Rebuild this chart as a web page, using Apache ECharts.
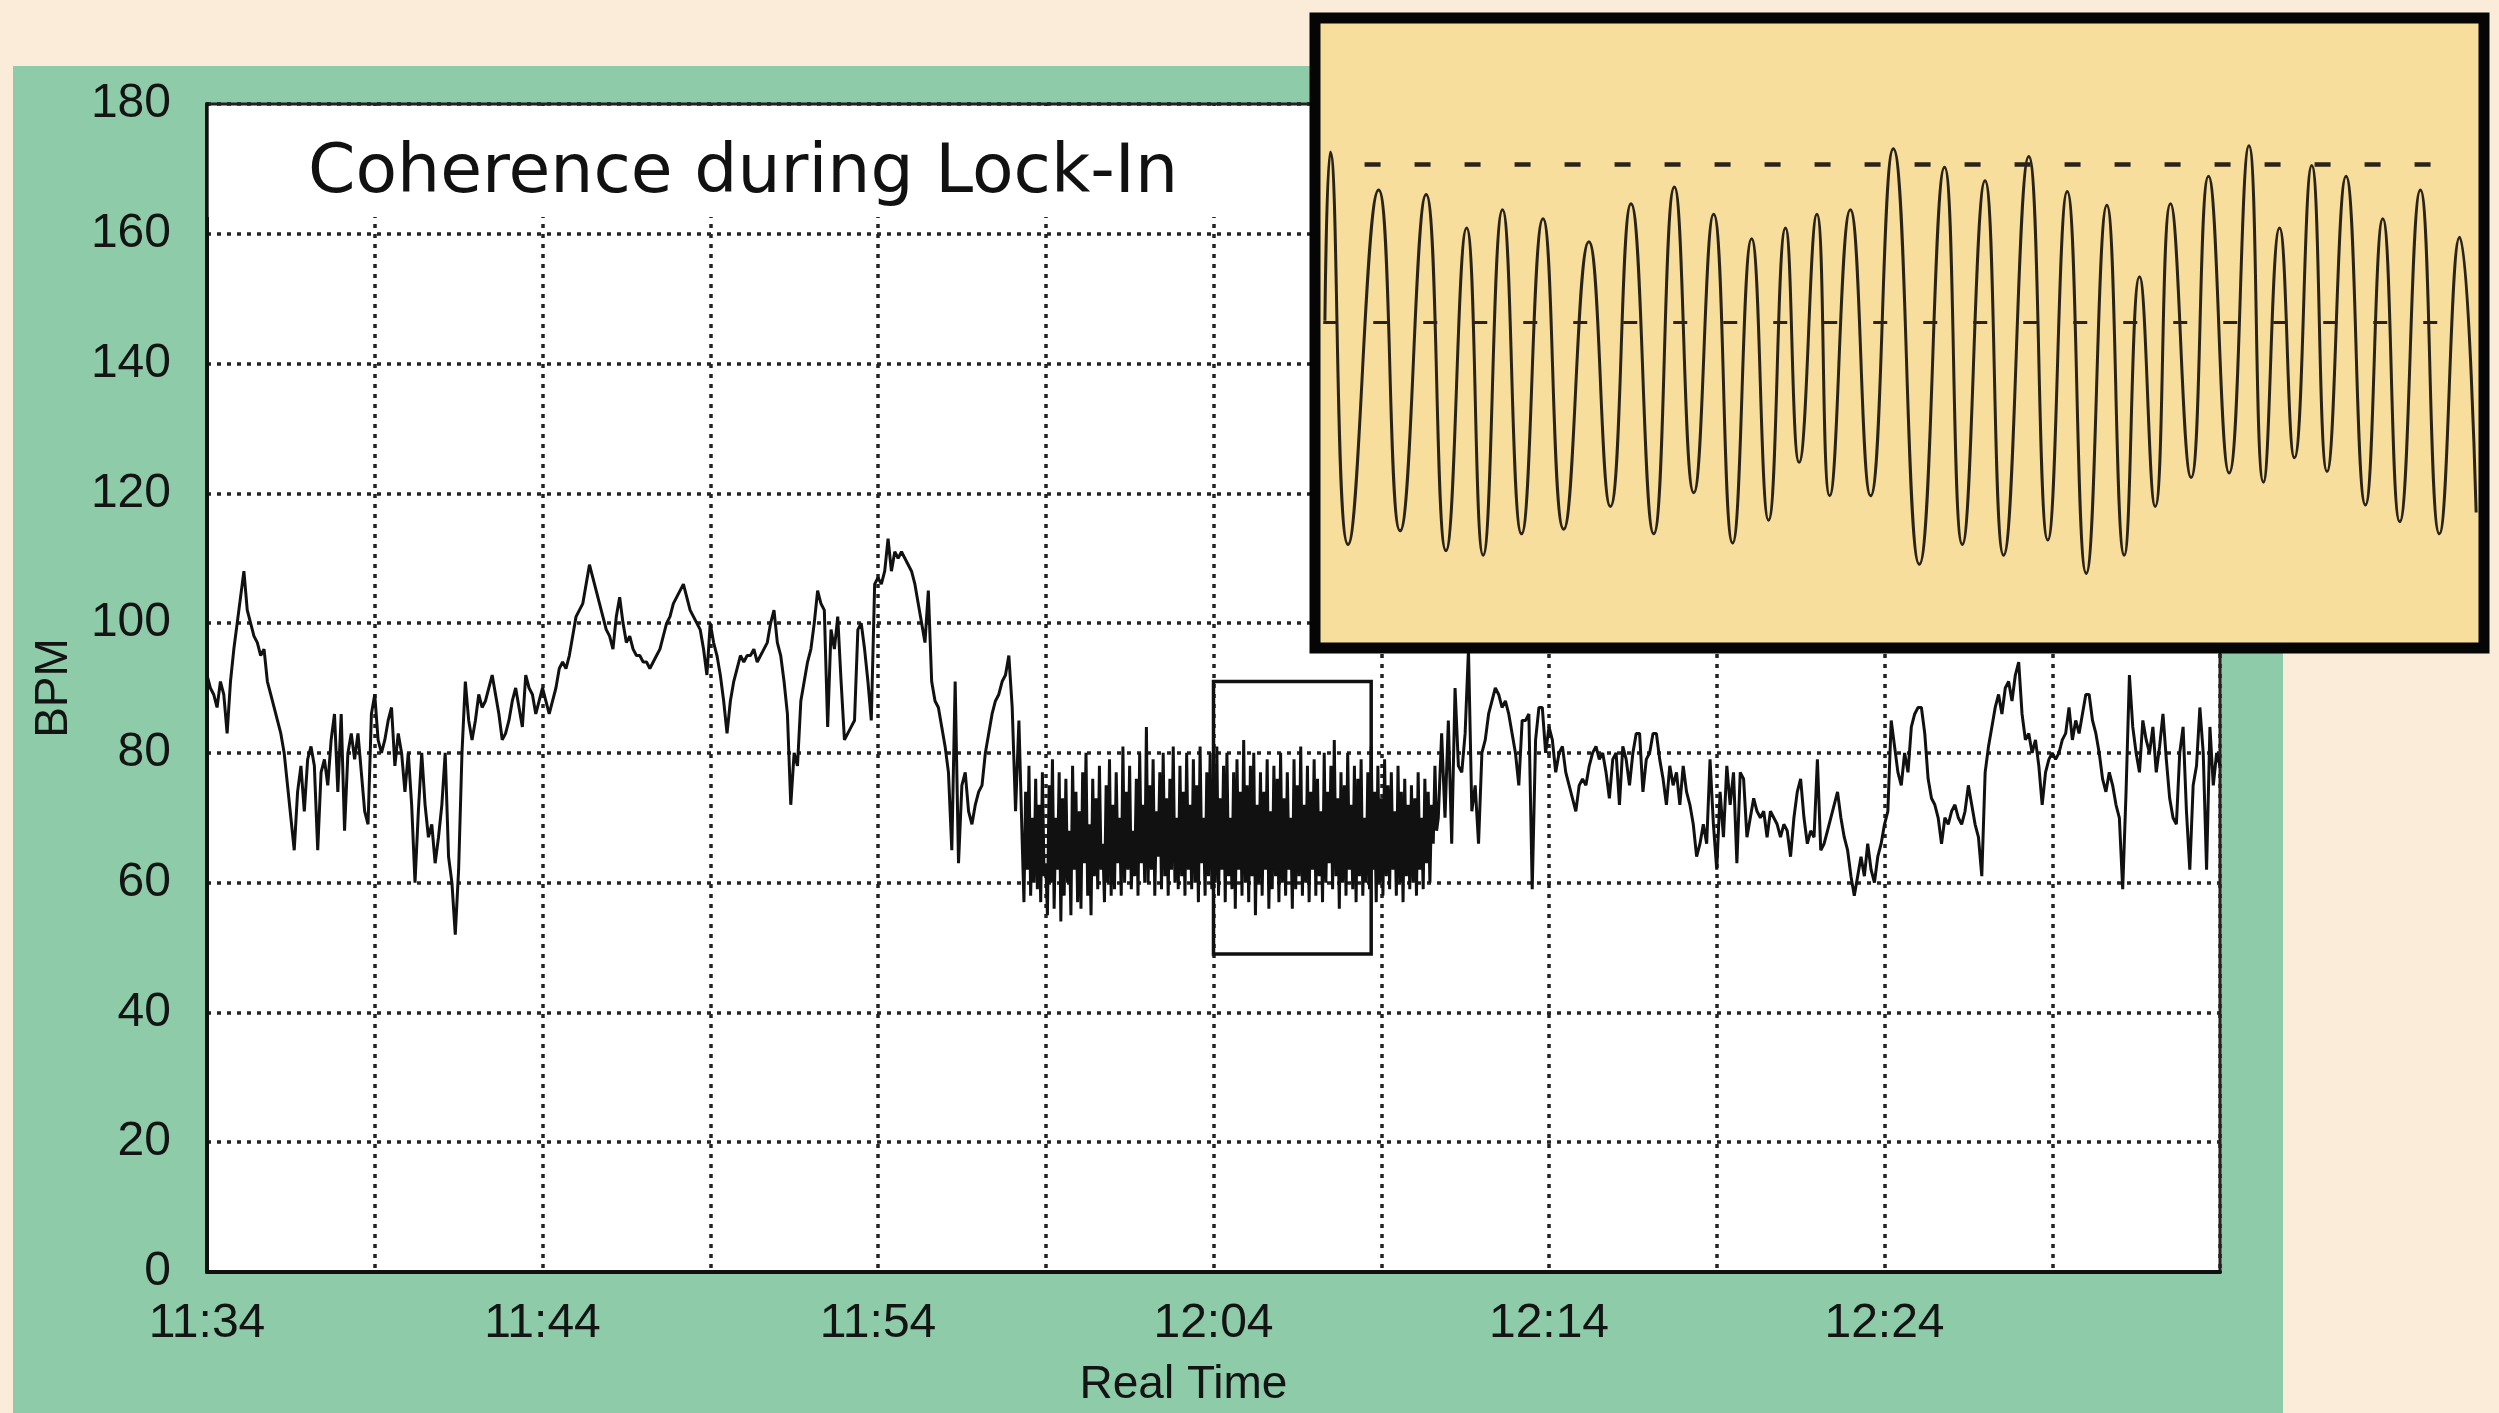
<!DOCTYPE html>
<html>
<head>
<meta charset="utf-8">
<title>Coherence during Lock-In</title>
<script src="https://cdn.jsdelivr.net/npm/echarts@6/dist/echarts.min.js"></script>
<style>
  html, body { margin: 0; padding: 0; background: #faecd8; overflow: hidden; }
  #main { width: 2499px; height: 1413px; }
</style>
</head>
<body>
<div id="main"></div>
<script>
// heart rate (BPM); x = minutes after 11:34
// 11:34 - 11:43.9, one reading every 6 s
var bpmA = [
  92, 90, 89, 87, 91, 89, 83, 91, 96, 100,
  104, 108, 102, 100, 98, 97, 95, 96, 91, 89,
  87, 85, 83, 80, 75, 70, 65, 74, 78, 71,
  79, 81, 78, 65, 77, 79, 75, 82, 86, 74,
  86, 68, 80, 83, 79, 83, 77, 71, 69, 86,
  89, 82, 80, 82, 85, 87, 78, 83, 80, 74,
  80, 72, 60, 71, 80, 72, 67, 69, 63, 67,
  72, 80, 64, 60, 52, 62, 80, 91, 85, 82,
  85, 89, 87, 88, 90, 92, 89, 86, 82, 83,
  85, 88, 90, 87, 84, 92, 90, 89, 86, 88
];
// 11:44 - 11:53.9
var bpmB = [
  90, 88, 86, 88, 90, 93, 94, 93, 95, 98,
  101, 102, 103, 106, 109, 107, 105, 103, 101, 99,
  98, 96, 101, 104, 100, 97, 98, 96, 95, 95,
  94, 94, 93, 94, 95, 96, 98, 100, 101, 103,
  104, 105, 106, 104, 102, 101, 100, 99, 96, 92,
  100, 97, 95, 92, 88, 83, 88, 91, 93, 95,
  94, 95, 95, 96, 94, 95, 96, 97, 100, 102,
  97, 95, 91, 86, 72, 80, 78, 88, 91, 94,
  96, 100, 105, 103, 102, 84, 99, 96, 101, 91,
  82, 83, 84, 85, 99, 100, 96, 91, 85, 106
];
// 11:54 - 11:58.2
var bpmC = [
  107, 106, 108, 113, 108, 111, 110, 111, 110, 109,
  108, 106, 103, 100, 97, 105, 91, 88, 87, 84,
  81, 77, 65, 91, 63, 75, 77, 71, 69, 72,
  74, 75, 80, 83, 86, 88, 89, 91, 92, 95,
  87, 71, 85
];
// lock-in, 11:58.3 - 12:10.65, one reading every 3 s
var bpmLock = [
  66, 57, 74, 62, 78, 58, 70, 60, 76, 59, 72, 57, 77, 61,
  63, 55, 75, 60, 79, 56, 70, 62, 77, 54, 73, 58, 76, 60, 68, 55, 78, 62, 74, 57,
  71, 56, 77, 63, 80, 58, 69, 55, 76, 61, 73, 59, 78, 62, 66, 57, 75, 60, 79, 58,
  72, 59, 77, 63, 70, 58, 81, 60, 74, 62, 78, 59, 68, 61, 76, 58, 80, 63, 72, 60,
  84, 60, 75, 62, 79, 58, 71, 64, 77, 59, 80, 61, 73, 58, 76, 62, 81, 60, 70, 59,
  78, 61, 74, 58, 80, 62, 72, 59, 79, 60, 75, 57, 81, 63, 70, 58, 77, 61, 80, 59,
  76, 60, 81, 58, 73, 62, 78, 57, 80, 61, 70, 59, 77, 56, 79, 62, 74, 58, 82, 60,
  75, 57, 78, 61, 80, 55, 72, 60, 77, 58, 74, 62, 79, 56, 71, 59, 78, 61, 76, 57,
  80, 60, 73, 58, 77, 62, 70, 56, 79, 59, 75, 61, 81, 58, 72, 60, 78, 57, 74, 62,
  79, 58, 76, 61, 71, 57, 80, 60, 74, 63, 78, 59, 82, 61, 73, 56, 77, 60, 75, 58,
  80, 62, 72, 59, 78, 57, 76, 61, 79, 58, 70, 60, 77, 59, 81, 62, 74, 57, 78, 60,
  73, 58, 79, 61, 75, 59, 77, 62, 71, 58, 78, 60, 74, 57, 76, 61, 72, 59, 75, 60,
  73, 58, 77, 62, 70, 59, 76, 63, 74, 60, 72, 66, 78, 68
];
// 12:10.7 - 12:34, one reading every 6 s
var bpmD = [
  70, 83, 70, 85, 66, 90, 78, 77, 83, 96,
  71, 75, 66, 80, 82, 86, 88, 90, 89, 87,
  88, 86, 83, 80, 75, 85, 85, 86, 59, 82,
  87, 87, 80, 84, 82, 77, 80, 81, 77, 75,
  73, 71, 75, 76, 75, 78, 80, 81, 79, 80,
  77, 73, 79, 80, 72, 81, 79, 75, 80, 83,
  83, 74, 79, 80, 83, 83, 79, 76, 72, 78,
  75, 77, 72, 78, 74, 72, 69, 64, 66, 69,
  66, 79, 69, 62, 74, 67, 78, 72, 77, 63,
  77, 76, 67, 70, 73, 71, 70, 71, 67, 71,
  70, 69, 67, 69, 68, 64, 70, 74, 76, 70,
  66, 68, 67, 79, 65, 66, 68, 70, 72, 74,
  70, 67, 65, 61, 58, 61, 64, 61, 66, 62,
  60, 64, 66, 69, 71, 85, 81, 77, 75, 80,
  77, 84, 86, 87, 87, 83, 76, 73, 72, 70,
  66, 70, 69, 71, 72, 70, 69, 71, 75, 72,
  69, 67, 61, 77, 81, 84, 87, 89, 86, 90,
  91, 88, 92, 94, 86, 82, 83, 80, 82, 78,
  72, 77, 79, 80, 79, 80, 82, 83, 87, 82,
  85, 83, 86, 89, 89, 85, 83, 80, 76, 74,
  77, 75, 72, 70, 59, 74, 92, 84, 80, 77,
  85, 82, 80, 84, 77, 81, 86, 79, 73, 70,
  69, 80, 84, 71, 62, 75, 78, 87, 80, 62,
  84, 75, 80, 78
];
var segments = [
  { start: 0, step: 0.1, values: bpmA },
  { start: 10, step: 0.1, values: bpmB },
  { start: 20, step: 0.1, values: bpmC },
  { start: 24.3, step: 0.05, values: bpmLock },
  { start: 36.7, step: 0.1, values: bpmD }
];
var timeLabels = ['11:34', '11:44', '11:54', '12:04', '12:14', '12:24'];
// zoomed window (minutes, BPM)
var lockBox = [30, 49, 34.7, 91];
// the grid stops a little above 160, leaving room for the title
var gridTop = 162.6;

// inset: breath-by-breath peaks and troughs (seconds into the window, BPM)
var insetSec = [
  2.4, 3.7, 8.0, 15.4, 20.6, 26.9, 31.7, 36.7, 40.7, 45.4,
  50.0, 55.2, 60.2, 66.3, 71.5, 76.5, 82.0, 87.0, 91.7, 96.5,
  101.1, 105.7, 109.8, 113.9, 117.2, 121.5, 124.6, 129.6, 134.5, 140.0,
  146.3, 152.4, 156.7, 162.2, 166.7, 172.8, 177.4, 182.1, 186.7, 191.7,
  195.9, 199.6, 203.4, 207.1, 212.1, 216.3, 221.3, 226.1, 229.6, 233.5,
  237.1, 241.3, 245.0, 249.6, 254.3, 258.5, 262.6, 267.6, 272.2, 277.1, 281.1
];
var insetBpm = [
  70.8, 81.9, 56.1, 79.4, 57.0, 79.1, 55.7, 76.9, 55.4, 78.1,
  56.8, 77.5, 57.1, 76.0, 58.6, 78.5, 56.8, 79.6, 59.5, 77.8,
  56.2, 76.2, 57.7, 76.9, 61.5, 77.8, 59.3, 78.1, 59.3, 82.1,
  54.8, 80.9, 56.1, 80.0, 55.4, 81.6, 56.4, 79.3, 54.2, 78.4,
  55.4, 73.7, 58.6, 78.5, 60.5, 80.3, 60.8, 82.3, 60.2, 76.9,
  61.8, 81.0, 60.9, 80.3, 58.7, 77.5, 57.6, 79.4, 56.8, 76.3, 58.2
];
var insetUpper = 81.1;
var insetMid = 70.7;

var hr = [];
segments.forEach(function (s) {
  s.values.forEach(function (v, i) {
    hr.push([+(s.start + i * s.step).toFixed(2), v]);
  });
});
var inset = insetSec.map(function (t, i) { return [t, insetBpm[i]]; });

var labelFont = 'Liberation Sans, Arial, sans-serif';
var dots = { type: [4, 6], color: '#222', width: 3.5 };

var myChart = echarts.init(document.getElementById('main'));

var option = {
  backgroundColor: '#faecd8',
  animation: false,
  graphic: [{
    type: 'rect',
    z: -1,
    shape: { x: 13, y: 66, width: 2270, height: 1347 },
    style: { fill: '#8dcba9' },
    silent: true
  }],
  title: {
    text: 'Coherence during Lock-In',
    left: 303,
    top: 135,
    textStyle: { fontFamily: 'DejaVu Sans', fontSize: 68, fontWeight: 'normal', color: '#111' }
  },
  grid: [
    { left: 207, top: 104, width: 2013, height: 1170, show: true,
      backgroundColor: '#ffffff', borderColor: '#222', borderWidth: 3 },
    { left: 1315, top: 18, width: 1169, height: 630, show: true, z: 10,
      backgroundColor: '#f8de9c', borderColor: '#050505', borderWidth: 11 }
  ],
  xAxis: [
    {
      type: 'value', gridIndex: 0, min: 0, max: 60, interval: 5,
      axisLine: { lineStyle: { color: '#111', width: 4 } },
      axisTick: { show: false },
      splitLine: { show: true, lineStyle: dots },
      axisLabel: {
        fontFamily: labelFont, fontSize: 48, color: '#141414', margin: 28,
        formatter: function (v) { return (v % 10 === 0 && v < 60) ? timeLabels[v / 10] : ''; }
      },
      name: 'Real Time', nameLocation: 'middle', nameGap: 90,
      nameTextStyle: { fontFamily: labelFont, fontSize: 46, color: '#141414', padding: [0, 60, 0, 0] }
    },
    { type: 'value', gridIndex: 1, min: 0, max: 283, show: false }
  ],
  yAxis: [
    {
      type: 'value', gridIndex: 0, min: 0, max: 180, interval: 20,
      axisLine: { show: true, lineStyle: { color: '#111', width: 4 } },
      axisTick: { show: false },
      splitLine: { show: true, lineStyle: dots },
      axisLabel: { fontFamily: labelFont, fontSize: 48, color: '#141414', margin: 36 },
      name: 'BPM', nameLocation: 'middle', nameGap: 130,
      nameTextStyle: { fontFamily: labelFont, fontSize: 46, color: '#141414' }
    },
    { type: 'value', gridIndex: 1, min: 49.3, max: 90.7, show: false }
  ],
  series: [
    {
      type: 'line',
      xAxisIndex: 0, yAxisIndex: 0,
      data: hr,
      showSymbol: false,
      lineStyle: { color: '#111', width: 3 },
      silent: true,
      z: 2,
      markArea: {
        silent: true,
        itemStyle: { color: 'rgba(0,0,0,0)', borderColor: '#111', borderWidth: 3.5 },
        data: [
          [{ coord: [lockBox[0], lockBox[1]] }, { coord: [lockBox[2], lockBox[3]] }],
          [{ coord: [0.05, gridTop], itemStyle: { color: '#ffffff', borderWidth: 0 } }, { coord: [59.95, 179.7] }]
        ]
      }
    },
    {
      type: 'line',
      xAxisIndex: 1, yAxisIndex: 1,
      data: inset,
      smooth: true,
      showSymbol: false,
      lineStyle: { color: '#2a2418', width: 3 },
      silent: true,
      z: 12,
      markLine: {
        silent: true,
        z: 13,
        symbol: 'none',
        label: { show: false },
        lineStyle: { color: '#2a2418', type: [16, 34], width: 4.5 },
        data: [
          [{ coord: [12, insetUpper] }, { coord: [278, insetUpper] }],
          [{ coord: [2, insetMid], lineStyle: { width: 3, type: [14, 36] } }, { coord: [280, insetMid] }]
        ]
      }
    }
  ]
};
myChart.setOption(option);
</script>
</body>
</html>
